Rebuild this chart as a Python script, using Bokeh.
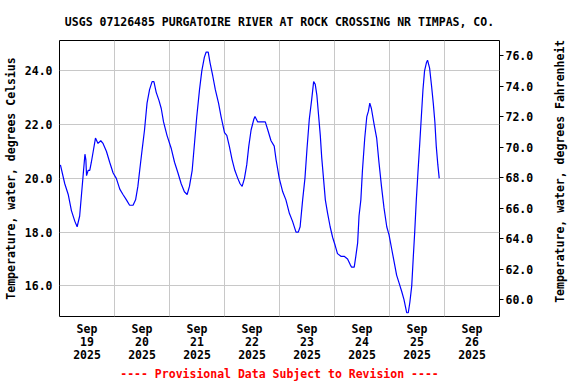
import math
from bokeh.plotting import figure
from bokeh.layouts import row
from bokeh.models import Range1d, LinearAxis, FixedTicker, NumeralTickFormatter
from bokeh.core.properties import value
from bokeh.embed import file_html
from bokeh.resources import INLINE

# ---- data: hours since 2025-09-19 00:00 and water temperature, deg C ----
hours = [0.4, 2.3, 3.8, 5.2, 6.7, 7.7, 8.8, 9.6, 10.3, 11.1, 11.5, 11.8, 12.5, 13.2, 13.9,
         14.7, 15.7, 16.8, 18.0, 19.0, 20.5, 21.9, 23.4, 24.8, 26.3, 27.7, 29.2, 30.6, 32.1,
         33.2, 34.2, 35.0, 36.1, 37.1, 38.2, 39.3, 40.4, 41.2, 42.2, 43.4, 44.4, 45.4, 46.9,
         48.8, 50.2, 51.7, 53.1, 54.5, 55.7, 56.7, 57.9, 58.9, 59.9, 61.1, 62.1, 63.2, 64.0,
         64.9, 65.7, 66.9, 68.0, 69.4, 70.5, 72.0, 73.0, 74.1, 75.3, 76.5, 77.8, 78.8, 79.7,
         80.7, 81.7, 82.6, 83.6, 84.8, 85.3, 86.5, 88.7, 89.8, 90.9, 92.3, 93.7, 94.5, 95.9,
         97.4, 98.8, 100.3, 101.7, 103.2, 104.2, 105.0, 106.1, 107.1, 108.0, 109.0, 110.0,
         110.9, 111.6, 112.3, 113.1, 113.8, 114.4, 115.2, 116.0, 117.0, 118.1, 119.2, 120.3,
         121.3, 122.8, 124.2, 125.7, 126.8, 127.4, 128.6, 129.3, 130.1, 130.7, 131.5, 132.2,
         133.2, 134.1, 134.8, 135.4, 136.1, 137.3, 138.4, 139.4, 140.5, 141.6, 142.8, 143.8,
         144.9, 146.0, 147.1, 148.2, 149.3, 150.3, 151.5, 152.2, 152.9, 153.7, 154.4, 155.0,
         155.7, 156.4, 157.2, 157.9, 158.6, 159.3, 160.1, 160.6, 161.5, 162.4, 163.1, 163.8,
         164.4, 165.1, 165.7]
temps_c = [20.5, 19.8, 19.4, 18.8, 18.4, 18.2, 18.6, 19.4, 20.1, 20.9, 20.7, 20.1, 20.3, 20.3, 20.6,
           21.0, 21.5, 21.3, 21.4, 21.3, 21.0, 20.6, 20.2, 20.0, 19.6, 19.4, 19.2, 19.0, 19.0,
           19.2, 19.7, 20.3, 21.1, 21.8, 22.8, 23.3, 23.6, 23.6, 23.2, 22.9, 22.6, 22.1, 21.6,
           21.1, 20.6, 20.2, 19.8, 19.5, 19.4, 19.7, 20.3, 21.3, 22.3, 23.3, 24.0, 24.5, 24.7,
           24.7, 24.3, 23.8, 23.3, 22.8, 22.3, 21.7, 21.6, 21.2, 20.7, 20.3, 20.0, 19.8, 19.7,
           20.0, 20.5, 21.2, 21.8, 22.2, 22.3, 22.1, 22.1, 22.1, 21.8, 21.4, 21.2, 20.7, 20.0,
           19.5, 19.2, 18.7, 18.4, 18.0, 18.0, 18.2, 19.2, 20.0, 21.1, 22.2, 22.9,
           23.6, 23.5, 23.1, 22.3, 21.6, 20.8, 20.0, 19.2, 18.7, 18.2, 17.8, 17.5,
           17.2, 17.1, 17.1, 17.0, 16.8, 16.7, 16.7, 17.1, 17.6, 18.6, 19.2, 20.3,
           21.5, 22.3, 22.5, 22.8, 22.6, 22.0, 21.5, 20.6, 19.7, 18.9, 18.2, 17.9,
           17.4, 16.9, 16.4, 16.1, 15.8, 15.5, 15.0, 15.0, 15.4, 16.0, 17.1, 18.0,
           19.2, 20.2, 21.3, 22.3, 23.3, 24.0, 24.3, 24.4, 24.1, 23.4, 22.8, 22.1,
           21.2, 20.5, 20.0]

day_label_hours = [12, 36, 60, 84, 108, 132, 156, 180]
day_labels = ["Sep\n19\n2025", "Sep\n20\n2025", "Sep\n21\n2025", "Sep\n22\n2025",
              "Sep\n23\n2025", "Sep\n24\n2025", "Sep\n25\n2025", "Sep\n26\n2025"]
midnight_hours = [24, 48, 72, 96, 120, 144, 168]
c_ticks = [16, 18, 20, 22, 24]
f_ticks = [60, 62, 64, 66, 68, 70, 72, 74, 76]

title_text = "USGS 07126485 PURGATOIRE RIVER AT ROCK CROSSING NR TIMPAS, CO."
left_label = "Temperature, water, degrees Celsius"
right_label = "Temperature, water, degrees Fahrenheit"
footer = "---- Provisional Data Subject to Revision ----"

FONT = "DejaVu Sans Mono"
FS = "11.5px"

H = 384
p = figure(width=538, height=H, output_backend="svg", toolbar_location=None,
           x_range=Range1d(0, 192), y_range=Range1d(14.86, 25.13),
           min_border_left=58, min_border_right=39, min_border_top=39, min_border_bottom=68,
           background_fill_color="white", border_fill_color="white")

p.title.text = title_text
p.title.align = "center"
p.title.text_font = FONT
p.title.text_font_size = FS
p.title.text_font_style = "bold"
p.title.text_color = "black"
p.title.standoff = 24

p.outline_line_color = "black"
p.outline_line_width = 1
p.outline_line_alpha = 1

p.line(hours, temps_c, line_color="#0000ff", line_width=1.2)

# grids
p.xgrid.ticker = FixedTicker(ticks=midnight_hours)
p.ygrid.ticker = FixedTicker(ticks=c_ticks)
p.grid.grid_line_color = "#c8c8c8"
p.grid.grid_line_width = 1

# bottom axis
xa = p.xaxis[0]
xa.ticker = FixedTicker(ticks=day_label_hours)
xa.major_label_overrides = {h: lab for h, lab in zip(day_label_hours, day_labels)}
xa.major_tick_out = 0
xa.major_tick_in = 0
xa.minor_tick_out = 0
xa.minor_tick_in = 0
xa.axis_line_color = None
xa.major_label_standoff = 5
xa.major_label_text_font = FONT
xa.major_label_text_font_size = FS
xa.major_label_text_font_style = "bold"
xa.major_label_text_color = "black"
xa.major_label_text_line_height = 0.95
xa.axis_label = footer
xa.axis_label_text_color = "red"
xa.axis_label_text_font = FONT
xa.axis_label_text_font_size = FS
xa.axis_label_text_font_style = "bold"
xa.axis_label_standoff = 2

# left axis (Celsius)
ya = p.yaxis[0]
ya.ticker = FixedTicker(ticks=c_ticks)
ya.formatter = NumeralTickFormatter(format="0.0")
ya.major_tick_out = 0
ya.major_tick_in = 0
ya.minor_tick_out = 0
ya.minor_tick_in = 0
ya.axis_line_color = None
ya.major_label_standoff = 7
ya.major_label_text_font = FONT
ya.major_label_text_font_size = FS
ya.major_label_text_font_style = "bold"
ya.major_label_text_color = "black"
ya.axis_label = left_label
ya.axis_label_text_font = FONT
ya.axis_label_text_font_size = FS
ya.axis_label_text_font_style = "bold"
ya.axis_label_text_color = "black"
ya.axis_label_standoff = 4

# right axis (Fahrenheit)
p.extra_y_ranges = {"F": Range1d(58.9, 77.0)}
ra = LinearAxis(y_range_name="F", ticker=FixedTicker(ticks=f_ticks),
                formatter=NumeralTickFormatter(format="0.0"))
ra.major_tick_out = 4
ra.major_tick_in = 0
ra.minor_tick_out = 0
ra.minor_tick_in = 0
ra.major_tick_line_color = "black"
ra.axis_line_color = None
ra.major_label_standoff = 2
ra.major_label_text_font = FONT
ra.major_label_text_font_size = FS
ra.major_label_text_font_style = "bold"
ra.major_label_text_color = "black"
p.add_layout(ra, "right")

# narrow strip holding the right axis title, reading bottom-to-top
QW = 36
q = figure(width=QW, height=H, title=None, output_backend="svg", toolbar_location=None,
           x_range=Range1d(0, QW), y_range=Range1d(0, H),
           x_axis_type=None, y_axis_type=None,
           min_border_left=0, min_border_right=0, min_border_top=0, min_border_bottom=0,
           background_fill_color="white", border_fill_color="white")
q.outline_line_color = None
q.grid.visible = False
q.text(x=[21], y=[H - 182], text=[right_label], angle=math.pi / 2,
       text_align="center", text_baseline="middle",
       text_font=value(FONT), text_font_size=value(FS), text_font_style="bold",
       text_color="black")

layout = row(p, q, spacing=0)
open("out.html", "w").write(file_html(layout, INLINE))
